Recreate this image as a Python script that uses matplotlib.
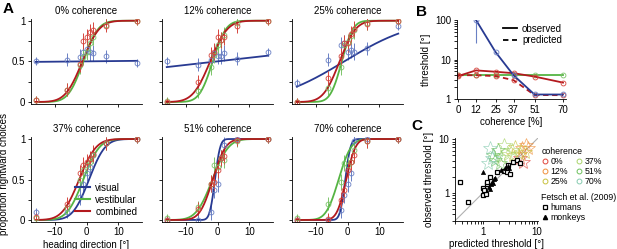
import math
import numpy as np
import matplotlib
matplotlib.use('Agg')
import matplotlib.pyplot as plt
from matplotlib.lines import Line2D
from matplotlib.ticker import FuncFormatter, NullFormatter

plt.rcParams['font.family'] = ['Liberation Sans', 'DejaVu Sans']
plt.rcParams['font.size'] = 7
plt.rcParams['axes.linewidth'] = 0.6

# ---- panel A data ----
coherences = [0, 12, 25, 37, 51, 70]
heading = [-16, -6, -2, -1, 0, 1, 2, 6, 16]
err_half = [0.05, 0.08, 0.1, 0.1, 0.1, 0.1, 0.1, 0.08, 0.05]

# fitted cumulative gaussian parameters (bias, threshold)
vis_bias = [0.0, 0.0, -1.0, 0.8, -0.8, -0.7]
vis_thr = [1000, 90, 17, 4.0, 1.3, 1.3]
ves_bias = [-1.0, -1.5, -1.8, -1.0, -1.6, -2.8]
ves_thr = [3.7, 3.3, 2.8, 4.0, 4.0, 3.1]
com_bias = [-1.3, -2.3, -2.5, -2.3, -1.5, -0.4]
com_thr = [4.2, 4.3, 4.0, 4.2, 3.2, 2.3]

vis_pts = [
    [0.50, 0.52, 0.55, 0.62, 0.65, 0.61, 0.60, 0.56, 0.48],
    [0.50, 0.46, 0.52, 0.60, 0.57, 0.57, 0.60, 0.53, 0.61],
    [0.23, 0.52, 0.70, 0.72, 0.62, 0.64, 0.62, 0.66, 0.94],
    [0.10, 0.10, 0.29, 0.45, 0.58, 0.66, 0.80, 0.95, 1.00],
    [0.00, 0.00, 0.10, 0.37, 0.45, 0.76, 0.92, 1.00, 1.00],
    [0.00, 0.00, 0.12, 0.31, 0.45, 0.58, 0.98, 1.00, 1.00],
]
ves_pts = [
    [0.02, 0.15, 0.45, 0.55, 0.62, 0.72, 0.80, 0.95, 1.00],
    [0.01, 0.13, 0.43, 0.58, 0.70, 0.76, 0.82, 0.97, 1.00],
    [0.00, 0.17, 0.43, 0.70, 0.74, 0.81, 0.88, 0.97, 1.00],
    [0.02, 0.15, 0.50, 0.62, 0.68, 0.72, 0.80, 0.95, 1.00],
    [0.02, 0.16, 0.45, 0.68, 0.66, 0.76, 0.74, 0.98, 1.00],
    [0.02, 0.20, 0.47, 0.70, 0.68, 0.72, 0.86, 0.97, 1.00],
]
com_pts = [
    [0.02, 0.15, 0.47, 0.75, 0.80, 0.86, 0.88, 0.94, 1.00],
    [0.00, 0.25, 0.58, 0.62, 0.80, 0.76, 0.80, 0.93, 1.00],
    [0.00, 0.30, 0.56, 0.73, 0.72, 0.84, 0.90, 0.96, 1.00],
    [0.04, 0.20, 0.58, 0.68, 0.72, 0.75, 0.82, 0.95, 1.00],
    [0.00, 0.14, 0.45, 0.47, 0.62, 0.77, 0.79, 0.99, 1.00],
    [0.00, 0.01, 0.25, 0.37, 0.62, 0.72, 0.80, 0.97, 1.00],
]

# ---- panel B data ----
coh_vis = [12, 25, 37, 51, 70]
thr_vis_obs = [100, 15.5, 4.0, 1.3, 1.3]
vis_err_low = [74, 0, 0, 0, 0]
thr_ves_obs = [4.0, 4.0, 4.0, 4.0, 4.0, 4.0]
thr_com_obs = [3.8, 5.3, 4.9, 4.5, 3.7, 2.6]
thr_com_pred = [4.0, 4.0, 3.8, 3.0, 1.26, 1.25]

# ---- panel C data ----
c_pred = [[4.8, 5.6], [5.2, 6.4, 6.9], [3.9, 4.8, 6.0, 3.6],
          [2.5, 2.9, 3.4, 2.2], [1.9, 1.7, 2.1, 1.55], [1.25, 1.35, 1.5]]
c_obs = [[4.4, 3.8], [6.7, 7.7, 6.7], [7.2, 5.4, 5.8, 5.0],
         [7.7, 5.4, 6.2, 4.7], [6.2, 4.1, 3.6, 5.0], [3.6, 6.7, 4.5]]
human_pred = [0.37, 0.53, 1.0, 1.08, 1.0, 1.12, 1.18, 1.2, 1.35, 1.8, 2.5, 2.8,
              2.9, 3.6, 4.2, 4.8, 1.05, 3.2]
human_obs = [1.6, 0.68, 1.25, 1.05, 0.9, 0.95, 1.45, 1.6, 2.0, 2.4, 2.6, 2.45,
             3.3, 3.7, 4.1, 3.6, 1.15, 2.2]
monkey_pred = [1.3, 1.4, 1.5, 1.6, 1.7, 1.35, 1.55, 2.6, 2.9, 3.1, 1.0, 2.2]
monkey_obs = [1.3, 1.45, 1.6, 1.8, 1.9, 1.2, 1.5, 2.9, 3.2, 2.9, 2.4, 2.7]

blue, green, red = '#283a92', '#55b443', '#b3191e'
blue_m, green_m, red_m = '#6a80c4', '#7cc46a', '#d6453d'
coh_colors = ['#e0453a', '#f0903c', '#c9c23e', '#a9d46a', '#6cc05c', '#86cbb0']

fig = plt.figure(figsize=(6.17, 2.49), dpi=100)
W, H = 617, 249


def add_ax(l, t, r, b):
    return fig.add_axes([l / W, 1 - b / H, (r - l) / W, (b - t) / H])


def style(ax):
    ax.spines['top'].set_visible(False)
    ax.spines['right'].set_visible(False)
    ax.tick_params(which='both', direction='out', length=2, width=0.6, pad=2,
                   labelsize=7)


def cumgauss(x, mu, s):
    return 0.5 * (1 + np.vectorize(math.erf)((x - mu) / (s * np.sqrt(2))))


xx = np.linspace(-16, 16, 300)
lefts = [31, 162, 292]
tops = [19.1, 137.4]
bottoms = [103.6, 221.6]
axA = []
for i, coh in enumerate(coherences):
    row, col = i // 3, i % 3
    ax = add_ax(lefts[col], tops[row], lefts[col] + 111, bottoms[row])
    style(ax)
    sets = [(vis_bias, vis_thr, vis_pts, blue, blue_m),
            (ves_bias, ves_thr, ves_pts, green, green_m),
            (com_bias, com_thr, com_pts, red, red_m)]
    for bias, thr, pts, lc, mc in sets:
        ax.errorbar(heading, pts[i], yerr=err_half, fmt='o', ms=3.5, mfc='none',
                    mec=mc, mew=0.6, ecolor=mc, elinewidth=0.7, capsize=0)
        ax.plot(xx, cumgauss(xx, bias[i], thr[i]), color=lc, lw=1.3)
    ax.set_xlim(-17.5, 17.5)
    ax.set_ylim(-0.02, 1.02)
    ax.set_xticks([-10, 0, 10])
    ax.set_yticks([0, 0.5, 1])
    ax.set_yticks([0.25, 0.75], minor=True)
    if col == 0:
        ax.set_yticklabels(['0', '0.5', '1'])
    else:
        ax.set_yticklabels([])
    if row == 0:
        ax.set_xticklabels([])
    ax.set_title(f'{coh}% coherence', fontsize=7, pad=4)
    axA.append(ax)

axA[3].set_ylabel('proportion rightward choices', fontsize=7, labelpad=2)
axA[3].yaxis.set_label_coords(-0.2, 0.56)
axA[3].set_xlabel('heading direction [°]', fontsize=7, labelpad=2)
axA[3].legend(handles=[Line2D([], [], color=blue, lw=1.5, label='visual'),
                       Line2D([], [], color=green, lw=1.5, label='vestibular'),
                       Line2D([], [], color=red, lw=1.5, label='combined')],
              loc='lower right', frameon=False, fontsize=7, handlelength=1.6,
              handletextpad=0.5, labelspacing=0.2, borderaxespad=0.1)

# ---- panel B ----
axB = add_ax(456.5, 20, 566, 99)
style(axB)
axB.set_yscale('log')
mk = dict(marker='o', ms=3.5, mfc='none', mew=0.6)
axB.plot(coherences, thr_ves_obs, color=green, lw=1.3, mec=green_m, **mk)
axB.errorbar(coh_vis, thr_vis_obs, yerr=[vis_err_low, [0] * 5], color=blue,
             lw=1.3, mec=blue_m, ecolor=blue_m, elinewidth=0.8, capsize=0, **mk)
axB.plot(coherences, thr_com_obs, color=red, lw=1.3, mec=red_m, **mk)
axB.plot(coherences, thr_com_pred, color=red, lw=1.3, ls=(0, (3, 2)),
         mec=red_m, **mk)
axB.set_xlim(-1, 72)
axB.set_ylim(1, 100)
axB.set_xticks(coherences)
axB.yaxis.set_major_formatter(FuncFormatter(lambda v, p: f'{v:g}'))
axB.yaxis.set_minor_formatter(NullFormatter())
axB.set_xlabel('coherence [%]', fontsize=7, labelpad=2)
axB.set_ylabel('threshold [°]', fontsize=7, labelpad=3)
axB.legend(handles=[Line2D([], [], color='k', lw=1.3, label='observed'),
                    Line2D([], [], color='k', lw=1.3, ls=(0, (3, 2)),
                           label='predicted')],
           loc='upper right', frameon=False, fontsize=7, handlelength=1.5,
           handletextpad=0.5, labelspacing=0.15, borderaxespad=0.0)

# ---- panel C ----
axC = add_ax(454.8, 138, 538, 221)
style(axC)
axC.set_xscale('log')
axC.set_yscale('log')
axC.plot([0.3, 10.5], [0.3, 10.5], color='#b0b0b0', lw=0.8, zorder=0)
for j in range(len(coherences)):
    axC.plot(c_pred[j], c_obs[j], ls='none', marker='*', ms=10, mfc='none',
             mec=coh_colors[j], mew=0.5, alpha=0.8)
axC.plot(human_pred, human_obs, ls='none', marker='s', ms=3, mfc='white',
         mec='k', mew=0.9)
axC.plot(monkey_pred, monkey_obs, ls='none', marker='^', ms=3, mfc='k',
         mec='k', mew=0.5)
axC.set_xlim(0.3, 10.5)
axC.set_ylim(0.3, 10.5)
for a in (axC.xaxis, axC.yaxis):
    a.set_major_formatter(FuncFormatter(lambda v, p: f'{v:g}'))
    a.set_minor_formatter(NullFormatter())
axC.set_xlabel('predicted threshold [°]', fontsize=7, labelpad=2)
axC.set_ylabel('observed threshold [°]', fontsize=7, labelpad=3)

coh_handles = [Line2D([], [], ls='none', marker='o', ms=3.5, mfc='none',
                      mec=coh_colors[j], mew=0.7, label=f'{c}%')
               for j, c in enumerate(coherences)]
leg1 = axC.legend(handles=coh_handles, title='coherence', ncol=2,
                  loc='upper left', bbox_to_anchor=(535 / W, 1 - 141 / H),
                  bbox_transform=fig.transFigure, frameon=False, fontsize=6.3,
                  title_fontsize=6.3, alignment='left', handlelength=0.8,
                  handletextpad=0.3, columnspacing=0.8, labelspacing=0.1,
                  borderpad=0.2)
axC.add_artist(leg1)
fetsch_handles = [Line2D([], [], ls='none', marker='s', ms=3, mfc='white',
                         mec='k', mew=0.9, label='humans'),
                  Line2D([], [], ls='none', marker='^', ms=3, mfc='k',
                         mec='k', label='monkeys')]
axC.legend(handles=fetsch_handles, title='Fetsch et al. (2009)',
           loc='upper left', bbox_to_anchor=(535 / W, 1 - 187 / H),
           bbox_transform=fig.transFigure, frameon=False, fontsize=6.3,
           title_fontsize=6.3, alignment='left', handlelength=0.8,
           handletextpad=0.3, labelspacing=0.1, borderpad=0.2)

fig.text(3 / W, 1 - 2 / H, 'A', fontsize=11, fontweight='bold', va='top')
fig.text(416 / W, 1 - 5 / H, 'B', fontsize=11, fontweight='bold', va='top')
fig.text(411 / W, 1 - 119 / H, 'C', fontsize=11, fontweight='bold', va='top')

fig.savefig('out.png', dpi=100)
